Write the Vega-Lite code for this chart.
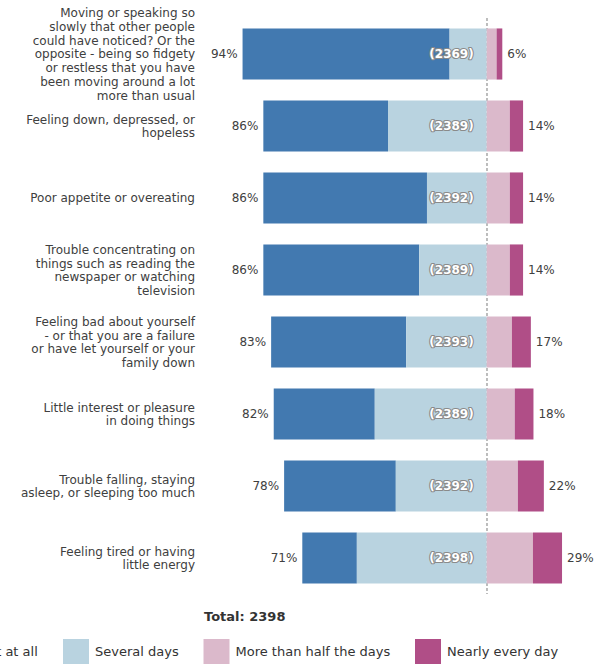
{
  "$schema": "https://vega.github.io/schema/vega-lite/v6.json",
  "autosize": "none",
  "width": 400,
  "height": 576,
  "padding": {"left": 201, "top": 18, "right": 8, "bottom": 70},
  "config": {
    "font": "DejaVu Sans",
    "view": {"stroke": null}
  },
  "title": {
    "text": "Total: 2398",
    "orient": "bottom",
    "anchor": "start",
    "frame": "group",
    "dx": 3,
    "dy": -70,
    "offset": 16,
    "fontSize": 13,
    "fontWeight": "bold",
    "color": "#333333",
    "font": "DejaVu Sans"
  },
  "datasets": {
    "bars": [
      {"question": "Moving or speaking so|slowly that other people|could have noticed? Or the|opposite - being so fidgety|or restless that you have|been moving around a lot|more than usual", "response": "Not at all", "value": -79.7},
      {"question": "Moving or speaking so|slowly that other people|could have noticed? Or the|opposite - being so fidgety|or restless that you have|been moving around a lot|more than usual", "response": "Several days", "value": -14.3},
      {"question": "Moving or speaking so|slowly that other people|could have noticed? Or the|opposite - being so fidgety|or restless that you have|been moving around a lot|more than usual", "response": "More than half the days", "value": 3.8},
      {"question": "Moving or speaking so|slowly that other people|could have noticed? Or the|opposite - being so fidgety|or restless that you have|been moving around a lot|more than usual", "response": "Nearly every day", "value": 2.2},
      {"question": "Feeling down, depressed, or|hopeless", "response": "Not at all", "value": -48.0},
      {"question": "Feeling down, depressed, or|hopeless", "response": "Several days", "value": -38.0},
      {"question": "Feeling down, depressed, or|hopeless", "response": "More than half the days", "value": 8.9},
      {"question": "Feeling down, depressed, or|hopeless", "response": "Nearly every day", "value": 5.1},
      {"question": "Poor appetite or overeating", "response": "Not at all", "value": -63.0},
      {"question": "Poor appetite or overeating", "response": "Several days", "value": -23.0},
      {"question": "Poor appetite or overeating", "response": "More than half the days", "value": 8.9},
      {"question": "Poor appetite or overeating", "response": "Nearly every day", "value": 5.1},
      {"question": "Trouble concentrating on|things such as reading the|newspaper or watching|television", "response": "Not at all", "value": -60.0},
      {"question": "Trouble concentrating on|things such as reading the|newspaper or watching|television", "response": "Several days", "value": -26.0},
      {"question": "Trouble concentrating on|things such as reading the|newspaper or watching|television", "response": "More than half the days", "value": 8.9},
      {"question": "Trouble concentrating on|things such as reading the|newspaper or watching|television", "response": "Nearly every day", "value": 5.1},
      {"question": "Feeling bad about yourself|- or that you are a failure|or have let yourself or your|family down", "response": "Not at all", "value": -52.0},
      {"question": "Feeling bad about yourself|- or that you are a failure|or have let yourself or your|family down", "response": "Several days", "value": -31.0},
      {"question": "Feeling bad about yourself|- or that you are a failure|or have let yourself or your|family down", "response": "More than half the days", "value": 9.7},
      {"question": "Feeling bad about yourself|- or that you are a failure|or have let yourself or your|family down", "response": "Nearly every day", "value": 7.3},
      {"question": "Little interest or pleasure|in doing things", "response": "Not at all", "value": -38.9},
      {"question": "Little interest or pleasure|in doing things", "response": "Several days", "value": -43.1},
      {"question": "Little interest or pleasure|in doing things", "response": "More than half the days", "value": 10.8},
      {"question": "Little interest or pleasure|in doing things", "response": "Nearly every day", "value": 7.2},
      {"question": "Trouble falling, staying|asleep, or sleeping too much", "response": "Not at all", "value": -43.0},
      {"question": "Trouble falling, staying|asleep, or sleeping too much", "response": "Several days", "value": -35.0},
      {"question": "Trouble falling, staying|asleep, or sleeping too much", "response": "More than half the days", "value": 12.0},
      {"question": "Trouble falling, staying|asleep, or sleeping too much", "response": "Nearly every day", "value": 10.0},
      {"question": "Feeling tired or having|little energy", "response": "Not at all", "value": -21.0},
      {"question": "Feeling tired or having|little energy", "response": "Several days", "value": -50.0},
      {"question": "Feeling tired or having|little energy", "response": "More than half the days", "value": 17.8},
      {"question": "Feeling tired or having|little energy", "response": "Nearly every day", "value": 11.2}
    ],
    "summary": [
      {"question": "Moving or speaking so|slowly that other people|could have noticed? Or the|opposite - being so fidgety|or restless that you have|been moving around a lot|more than usual", "left": -94, "left_label": "94%", "right": 6, "right_label": "6%", "n_label": "(2369)"},
      {"question": "Feeling down, depressed, or|hopeless", "left": -86, "left_label": "86%", "right": 14, "right_label": "14%", "n_label": "(2389)"},
      {"question": "Poor appetite or overeating", "left": -86, "left_label": "86%", "right": 14, "right_label": "14%", "n_label": "(2392)"},
      {"question": "Trouble concentrating on|things such as reading the|newspaper or watching|television", "left": -86, "left_label": "86%", "right": 14, "right_label": "14%", "n_label": "(2389)"},
      {"question": "Feeling bad about yourself|- or that you are a failure|or have let yourself or your|family down", "left": -83, "left_label": "83%", "right": 17, "right_label": "17%", "n_label": "(2393)"},
      {"question": "Little interest or pleasure|in doing things", "left": -82, "left_label": "82%", "right": 18, "right_label": "18%", "n_label": "(2389)"},
      {"question": "Trouble falling, staying|asleep, or sleeping too much", "left": -78, "left_label": "78%", "right": 22, "right_label": "22%", "n_label": "(2392)"},
      {"question": "Feeling tired or having|little energy", "left": -71, "left_label": "71%", "right": 29, "right_label": "29%", "n_label": "(2398)"}
    ]
  },
  "layer": [
    {
      "data": {"name": "summary"},
      "mark": {"type": "rule", "strokeDash": [3, 2], "color": "#bdbdbd", "strokeWidth": 1.3},
      "encoding": {"x": {"datum": 0, "type": "quantitative", "scale": {"domain": [-110, 44], "nice": false, "zero": false}, "axis": null}}
    },
    {
      "data": {"name": "bars"},
      "transform": [{"filter": "datum.value < 0"}],
      "mark": {"type": "bar"},
      "encoding": {
        "y": {"field": "question", "type": "nominal", "sort": null, "scale": {"paddingInner": 0.29, "paddingOuter": 0.145}, "axis": null},
        "x": {"field": "value", "type": "quantitative", "stack": "zero"},
        "color": {
          "field": "response",
          "type": "nominal",
          "scale": {"domain": ["Not at all", "Several days", "More than half the days", "Nearly every day"], "range": ["#4279b0", "#b9d3e0", "#dbb9cb", "#b04e87"]},
          "legend": {
            "title": null,
            "orient": "none",
            "legendX": -254.5,
            "legendY": 621,
            "direction": "horizontal",
            "columns": 4,
            "symbolType": "square",
            "symbolSize": 676,
            "symbolStrokeWidth": 0,
            "labelFont": "DejaVu Sans",
            "labelFontSize": 13,
            "labelColor": "#333333",
            "labelOffset": 6,
            "columnPadding": 24.5,
            "labelLimit": 0
          }
        },
        "order": {"field": "response", "type": "ordinal", "sort": "descending"}
      }
    },
    {
      "data": {"name": "bars"},
      "transform": [{"filter": "datum.value > 0"}],
      "mark": {"type": "bar"},
      "encoding": {
        "y": {"field": "question", "type": "nominal", "sort": null},
        "x": {"field": "value", "type": "quantitative", "stack": "zero"},
        "color": {"field": "response", "type": "nominal"},
        "order": {"field": "response", "type": "ordinal", "sort": "ascending"}
      }
    },
    {
      "data": {"name": "summary"},
      "transform": [{"filter": "indexof(datum.question, '|') < 0"}],
      "mark": {"type": "text", "align": "right", "baseline": "middle", "dx": -6, "dy": 0, "lineBreak": "|", "lineHeight": 13.8, "fontSize": 12, "font": "DejaVu Sans", "color": "#404040"},
      "encoding": {
        "y": {"field": "question", "type": "nominal", "sort": null},
        "x": {"datum": -110, "type": "quantitative"},
        "text": {"field": "question", "type": "nominal"}
      }
    },
    {
      "data": {"name": "summary"},
      "transform": [{"filter": "length(split(datum.question, '|')) == 2"}],
      "mark": {"type": "text", "align": "right", "baseline": "middle", "dx": -6, "dy": -6.4, "lineBreak": "|", "lineHeight": 13.8, "fontSize": 12, "font": "DejaVu Sans", "color": "#404040"},
      "encoding": {
        "y": {"field": "question", "type": "nominal", "sort": null},
        "x": {"datum": -110, "type": "quantitative"},
        "text": {"field": "question", "type": "nominal"}
      }
    },
    {
      "data": {"name": "summary"},
      "transform": [{"filter": "length(split(datum.question, '|')) == 4"}],
      "mark": {"type": "text", "align": "right", "baseline": "middle", "dx": -6, "dy": -20.2, "lineBreak": "|", "lineHeight": 13.8, "fontSize": 12, "font": "DejaVu Sans", "color": "#404040"},
      "encoding": {
        "y": {"field": "question", "type": "nominal", "sort": null},
        "x": {"datum": -110, "type": "quantitative"},
        "text": {"field": "question", "type": "nominal"}
      }
    },
    {
      "data": {"name": "summary"},
      "transform": [{"filter": "length(split(datum.question, '|')) == 7"}],
      "mark": {"type": "text", "align": "right", "baseline": "middle", "dx": -6, "dy": -40.9, "lineBreak": "|", "lineHeight": 13.8, "fontSize": 12, "font": "DejaVu Sans", "color": "#404040"},
      "encoding": {
        "y": {"field": "question", "type": "nominal", "sort": null},
        "x": {"datum": -110, "type": "quantitative"},
        "text": {"field": "question", "type": "nominal"}
      }
    },
    {
      "data": {"name": "summary"},
      "mark": {"type": "text", "align": "right", "baseline": "middle", "dx": -5, "fontSize": 12, "font": "DejaVu Sans", "color": "#404040"},
      "encoding": {
        "y": {"field": "question", "type": "nominal", "sort": null},
        "x": {"field": "left", "type": "quantitative"},
        "text": {"field": "left_label", "type": "nominal"}
      }
    },
    {
      "data": {"name": "summary"},
      "mark": {"type": "text", "align": "left", "baseline": "middle", "dx": 5, "fontSize": 12, "font": "DejaVu Sans", "color": "#404040"},
      "encoding": {
        "y": {"field": "question", "type": "nominal", "sort": null},
        "x": {"field": "right", "type": "quantitative"},
        "text": {"field": "right_label", "type": "nominal"}
      }
    },
    {
      "data": {"name": "summary"},
      "mark": {"type": "text", "align": "right", "baseline": "middle", "dx": -13, "fontSize": 12, "font": "DejaVu Sans", "fontWeight": "bold", "fill": "#8a8a8a", "stroke": "#8a8a8a", "strokeWidth": 2.2, "strokeJoin": "round"},
      "encoding": {
        "y": {"field": "question", "type": "nominal", "sort": null},
        "x": {"datum": 0, "type": "quantitative"},
        "text": {"field": "n_label", "type": "nominal"}
      }
    },
    {
      "data": {"name": "summary"},
      "mark": {"type": "text", "align": "right", "baseline": "middle", "dx": -13, "fontSize": 12, "font": "DejaVu Sans", "fontWeight": "bold", "fill": "#ffffff"},
      "encoding": {
        "y": {"field": "question", "type": "nominal", "sort": null},
        "x": {"datum": 0, "type": "quantitative"},
        "text": {"field": "n_label", "type": "nominal"}
      }
    }
  ]
}
